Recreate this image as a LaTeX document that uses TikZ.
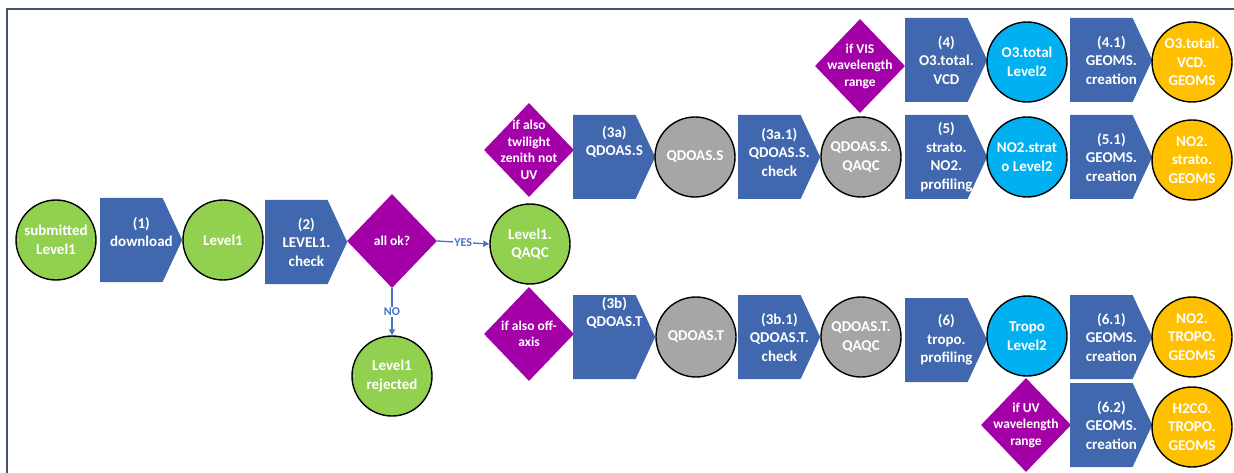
\documentclass[tikz,border=0pt]{standalone}
\usepackage{fontspec}
\setmainfont{Carlito}
\usetikzlibrary{shapes.geometric,shapes.symbols,arrows.meta}
\definecolor{pblue}{HTML}{4168AF}
\definecolor{purp}{HTML}{A400A8}
\definecolor{dgreen}{HTML}{92D050}
\definecolor{dgray}{HTML}{A6A6A6}
\definecolor{dcyan}{HTML}{00B0F0}
\definecolor{dgold}{HTML}{FFC000}
\definecolor{lblue}{HTML}{4472C4}
\definecolor{frame}{HTML}{44546A}
\begin{document}
\begin{tikzpicture}[x=1pt,y=-1pt,
  every label/.style={text=white,font=\bfseries\fontsize{15}{18.5}\selectfont,align=center,inner sep=0pt},
  proc/.style={signal,signal to=east,signal from=nowhere,signal pointer angle=130,fill=pblue,minimum width=82pt,minimum height=84pt,inner sep=0pt,anchor=west},
  pl/.style={xshift=10pt},
  dat/.style 2 args={circle,draw=black,line width=1.4pt,fill=#1,minimum size=80pt,inner sep=0pt,label={center:#2}},
  cond/.style={diamond,fill=purp,minimum width=90pt,minimum height=94pt,inner sep=0pt,label={[font=\bfseries\fontsize{13.5}{16.5}\selectfont]center:#1}},
  conn/.style={draw=lblue,line width=1.3pt,-{Triangle[length=6pt,width=6pt]}},
  tag/.style={text=lblue,font=\bfseries\fontsize{12}{14}\selectfont,fill=white,inner sep=1pt}
]
\useasboundingbox (0,0) rectangle (1234,473);
\draw[frame,line width=2.2pt] (1234,9) -- (7,9) -- (7,473);

% main row
\node[dat={dgreen}{submitted\\Level1}] (sub) at (56,240) {};
\node[proc,label={[pl,yshift=8pt]center:(1)\\download}] (p1) at (100,240) {};
\node[dat={dgreen}{Level1}] (l1) at (223,240) {};
\node[proc,label={[pl]center:(2)\\LEVEL1.\\check}] (p2) at (265,242) {};
\node[cond={all ok?}] (ok) at (392,241) {};
\node[dat={dgreen}{Level1.\\QAQC}] (qaqc) at (530,244) {};
\node[dat={dgreen}{Level1\\rejected}] (rej) at (392,376) {};

\draw[conn] (ok.east) -- node[tag] {YES} (qaqc.west);
\draw[conn] (ok.south) -- node[tag] {NO} (rej.north);

% upper branch
\node[cond={if also\\twilight\\zenith not\\UV}] (twi) at (529,150) {};
\node[proc,label={[pl,yshift=15pt]center:(3a)\\QDOAS.S}] (p3a) at (573,157) {};
\node[dat={dgray}{QDOAS.S}] (qs) at (695,157) {};
\node[proc,label={[pl,yshift=5pt]center:(3a.1)\\QDOAS.S.\\check}] (p3a1) at (738,157) {};
\node[dat={dgray}{QDOAS.S.\\QAQC}] (qsq) at (861,157) {};

\node[cond={if VIS\\wavelength\\range}] (vis) at (860,66) {};
\node[proc,label={[pl]center:(4)\\O3.total.\\VCD}] (p4) at (905,60) {};
\node[dat={dcyan}{O3.total\\Level2}] (o3) at (1027,62) {};
\node[proc,label={[pl]center:(4.1)\\GEOMS.\\creation}] (p41) at (1070,60) {};
\node[dat={dgold}{O3.total.\\VCD.\\GEOMS}] (o3g) at (1192,62) {};

\node[proc,label={[pl]center:(5)\\strato.\\NO2.\\profiling}] (p5) at (905,157) {};
\node[dat={dcyan}{NO2.strat\\o Level2}] (no2s) at (1027,157) {};
\node[proc,label={[pl]center:(5.1)\\GEOMS.\\creation}] (p51) at (1070,157) {};
\node[dat={dgold}{NO2.\\strato.\\GEOMS}] (no2sg) at (1192,160) {};

% lower branch
\node[cond={if also off-\\axis}] (off) at (529,334) {};
\node[proc,label={[pl,yshift=24pt]center:(3b)\\QDOAS.T}] (p3b) at (573,337) {};
\node[dat={dgray}{QDOAS.T}] (qt) at (696,337) {};
\node[proc,label={[pl]center:(3b.1)\\QDOAS.T.\\check}] (p3b1) at (738,337) {};
\node[dat={dgray}{QDOAS.T.\\QAQC}] (qtq) at (861,337) {};
\node[proc,label={[pl]center:(6)\\tropo.\\profiling}] (p6) at (905,340) {};
\node[dat={dcyan}{Tropo\\Level2}] (tropo) at (1027,336) {};
\node[proc,label={[pl]center:(6.1)\\GEOMS.\\creation}] (p61) at (1070,337) {};
\node[dat={dgold}{NO2.\\TROPO.\\GEOMS}] (no2tg) at (1192,337) {};

\node[cond={if UV\\wavelength\\range}] (uv) at (1026,425) {};
\node[proc,label={[pl]center:(6.2)\\GEOMS.\\creation}] (p62) at (1070,425) {};
\node[dat={dgold}{H2CO.\\TROPO.\\GEOMS}] (h2co) at (1192,427) {};
\end{tikzpicture}
\end{document}
